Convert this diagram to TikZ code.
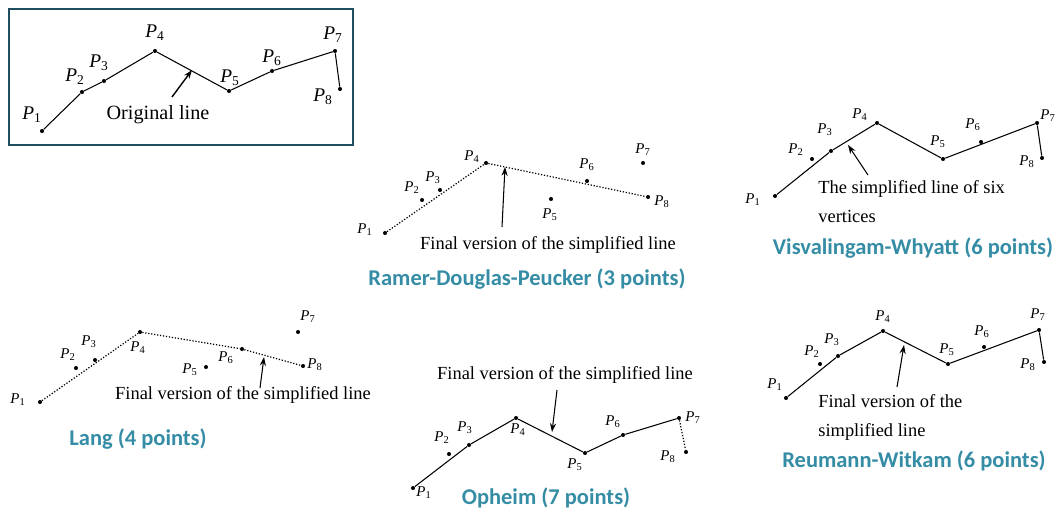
\documentclass[tikz,border=0pt]{standalone}
\usepackage{fontspec}
\setmainfont{Liberation Serif}
\newfontfamily\titlefont{Carlito}
\usetikzlibrary{positioning,arrows.meta}
\definecolor{boxteal}{RGB}{31,78,94}
\definecolor{titleteal}{RGB}{52,140,165}
\newcommand{\ptlabel}[1]{\textit{P}\textsubscript{#1}}

\begin{document}
\begin{tikzpicture}[x=0.02cm, y=-0.02cm,
  dot/.style={circle, fill=black, inner sep=0pt, minimum size=2.3pt},
  lbl/.style={inner sep=0pt, font=\fontsize{8.5}{10}\selectfont},
  biglbl/.style={inner sep=0pt, font=\fontsize{11}{13}\selectfont},
  poly/.style={line width=0.6pt},
  simpl/.style={line width=0.7pt, densely dotted},
  note/.style={inner sep=0pt, align=left, font=\fontsize{10.5}{16.4}\selectfont},
  title/.style={inner sep=0pt, text=titleteal,
                font=\titlefont\bfseries\fontsize{12.8}{14}\selectfont},
  >={Stealth[length=5pt, width=3.5pt]}
]
  \useasboundingbox (0,0) rectangle (1057,510);

  % Original line
  \draw[boxteal, line width=1.7pt] (9,9) rectangle (353,145);
  \node[dot] (o1) at (42,131) {};  \node[biglbl] (o1l) at (32,115) {\ptlabel{1}};
  \node[dot] (o2) at (82,92) {};   \node[biglbl] (o2l) at (75,77) {\ptlabel{2}};
  \node[dot] (o3) at (104,81) {};  \node[biglbl] (o3l) at (99,63) {\ptlabel{3}};
  \node[dot] (o4) at (155,51) {};  \node[biglbl] (o4l) at (155,33) {\ptlabel{4}};
  \node[dot] (o5) at (229,91) {};  \node[biglbl] (o5l) at (230,78) {\ptlabel{5}};
  \node[dot] (o6) at (272,71) {};  \node[biglbl] (o6l) at (272,58) {\ptlabel{6}};
  \node[dot] (o7) at (335,51) {};  \node[biglbl] (o7l) at (333,35) {\ptlabel{7}};
  \node[dot] (o8) at (340,89) {};  \node[biglbl] (o8l) at (323,97) {\ptlabel{8}};
  \draw[poly] (o1) -- (o2) -- (o3) -- (o4) -- (o5) -- (o6) -- (o7) -- (o8);
  \node[inner sep=0pt, font=\fontsize{11.5}{13}\selectfont] (otext) at (158,115)
    {Original line};
  \coordinate (oa) at (172,97);
  \coordinate (ob) at (192,70);
  \draw[->, line width=0.8pt] (oa) -- (ob);

  % Ramer-Douglas-Peucker
  \node[dot] (r1) at (385,233) {}; \node[lbl] (r1l) at (365,230) {\ptlabel{1}};
  \node[dot] (r2) at (422,200) {}; \node[lbl] (r2l) at (412,188) {\ptlabel{2}};
  \node[dot] (r3) at (440,190) {}; \node[lbl] (r3l) at (433,178) {\ptlabel{3}};
  \node[dot] (r4) at (486,163) {}; \node[lbl] (r4l) at (472,157) {\ptlabel{4}};
  \node[dot] (r5) at (551,199) {}; \node[lbl] (r5l) at (550,215) {\ptlabel{5}};
  \node[dot] (r6) at (587,181) {}; \node[lbl] (r6l) at (587,165) {\ptlabel{6}};
  \node[dot] (r7) at (643,163) {}; \node[lbl] (r7l) at (643,150) {\ptlabel{7}};
  \node[dot] (r8) at (648,197) {}; \node[lbl] (r8l) at (662,202) {\ptlabel{8}};
  \draw[simpl] (r1) -- (r4) -- (r8);
  \node[note] (rtext) at (548,245) {Final version of the simplified line};
  \coordinate (ra) at (502,227);
  \coordinate (rb) at (505,167);
  \draw[->, line width=0.6pt] (ra) -- (rb);
  \node[title] (rtitle) at (527,279) {Ramer-Douglas-Peucker (3 points)};

  % Visvalingam-Whyatt
  \node[dot] (v1) at (775,196) {};  \node[lbl] (v1l) at (753,200) {\ptlabel{1}};
  \node[dot] (v2) at (812,159) {};  \node[lbl] (v2l) at (796,150) {\ptlabel{2}};
  \node[dot] (v3) at (831,151) {};  \node[lbl] (v3l) at (825,130) {\ptlabel{3}};
  \node[dot] (v4) at (877,123) {};  \node[lbl] (v4l) at (860,115) {\ptlabel{4}};
  \node[dot] (v5) at (943,159) {};  \node[lbl] (v5l) at (938,142) {\ptlabel{5}};
  \node[dot] (v6) at (981,142) {};  \node[lbl] (v6l) at (973,125) {\ptlabel{6}};
  \node[dot] (v7) at (1037,123) {}; \node[lbl] (v7l) at (1048,116) {\ptlabel{7}};
  \node[dot] (v8) at (1042,158) {}; \node[lbl] (v8l) at (1027,162) {\ptlabel{8}};
  \draw[poly] (v1) -- (v3) -- (v4) -- (v5) -- (v7) -- (v8);
  \node[note, anchor=north west] (vtext) at (818,180)
    {The simplified line of six\\vertices};
  \coordinate (va) at (868,175);
  \coordinate (vb) at (848,145);
  \draw[->, line width=0.6pt] (va) -- (vb);
  \node[title] (vtitle) at (913,248) {Visvalingam-Whyatt (6 points)};

  % Lang
  \node[dot] (l1) at (40,402) {};  \node[lbl] (l1l) at (18,400) {\ptlabel{1}};
  \node[dot] (l2) at (76,368) {};  \node[lbl] (l2l) at (68,355) {\ptlabel{2}};
  \node[dot] (l3) at (95,360) {};  \node[lbl] (l3l) at (89,342) {\ptlabel{3}};
  \node[dot] (l4) at (140,332) {}; \node[lbl] (l4l) at (138,348) {\ptlabel{4}};
  \node[dot] (l5) at (206,367) {}; \node[lbl] (l5l) at (190,370) {\ptlabel{5}};
  \node[dot] (l6) at (242,349) {}; \node[lbl] (l6l) at (226,358) {\ptlabel{6}};
  \node[dot] (l7) at (298,332) {}; \node[lbl] (l7l) at (308,317) {\ptlabel{7}};
  \node[dot] (l8) at (303,366) {}; \node[lbl] (l8l) at (315,365) {\ptlabel{8}};
  \draw[simpl] (l1) -- (l4) -- (l6) -- (l8);
  \node[note] (ltext) at (243,395) {Final version of the simplified line};
  \coordinate (la) at (260,388);
  \coordinate (lb) at (264,357);
  \draw[->, line width=0.6pt] (la) -- (lb);
  \node[title] (ltitle) at (138,439) {Lang (4 points)};

  % Opheim
  \node[dot] (p1) at (413,488) {}; \node[lbl] (p1l) at (424,493) {\ptlabel{1}};
  \node[dot] (p2) at (449,454) {}; \node[lbl] (p2l) at (442,438) {\ptlabel{2}};
  \node[dot] (p3) at (469,445) {}; \node[lbl] (p3l) at (465,428) {\ptlabel{3}};
  \node[dot] (p4) at (516,418) {}; \node[lbl] (p4l) at (518,430) {\ptlabel{4}};
  \node[dot] (p5) at (585,453) {}; \node[lbl] (p5l) at (575,465) {\ptlabel{5}};
  \node[dot] (p6) at (623,435) {}; \node[lbl] (p6l) at (613,422) {\ptlabel{6}};
  \node[dot] (p7) at (679,418) {}; \node[lbl] (p7l) at (693,418) {\ptlabel{7}};
  \node[dot] (p8) at (686,452) {}; \node[lbl] (p8l) at (668,457) {\ptlabel{8}};
  \draw[poly] (p1) -- (p3) -- (p4) -- (p5) -- (p6) -- (p7);
  \draw[simpl] (p7) -- (p8);
  \node[note] (ptext) at (565,375) {Final version of the simplified line};
  \coordinate (pa) at (557,390);
  \coordinate (pb) at (552,432);
  \draw[->, line width=0.6pt] (pa) -- (pb);
  \node[title] (ptitle) at (546,498) {Opheim (7 points)};

  % Reumann-Witkam
  \node[dot] (w1) at (786,398) {};  \node[lbl] (w1l) at (775,385) {\ptlabel{1}};
  \node[dot] (w2) at (820,364) {};  \node[lbl] (w2l) at (812,352) {\ptlabel{2}};
  \node[dot] (w3) at (838,356) {};  \node[lbl] (w3l) at (832,340) {\ptlabel{3}};
  \node[dot] (w4) at (883,331) {};  \node[lbl] (w4l) at (883,317) {\ptlabel{4}};
  \node[dot] (w5) at (948,364) {};  \node[lbl] (w5l) at (947,350) {\ptlabel{5}};
  \node[dot] (w6) at (984,347) {};  \node[lbl] (w6l) at (982,332) {\ptlabel{6}};
  \node[dot] (w7) at (1039,330) {}; \node[lbl] (w7l) at (1038,315) {\ptlabel{7}};
  \node[dot] (w8) at (1044,362) {}; \node[lbl] (w8l) at (1028,365) {\ptlabel{8}};
  \draw[poly] (w1) -- (w3) -- (w4) -- (w5) -- (w7) -- (w8);
  \node[note, anchor=north west] (wtext) at (818,394)
    {Final version of the\\simplified line};
  \coordinate (wa) at (897,387);
  \coordinate (wb) at (904,345);
  \draw[->, line width=0.6pt] (wa) -- (wb);
  \node[title] (wtitle) at (914,461) {Reumann-Witkam (6 points)};
\end{tikzpicture}
\end{document}
